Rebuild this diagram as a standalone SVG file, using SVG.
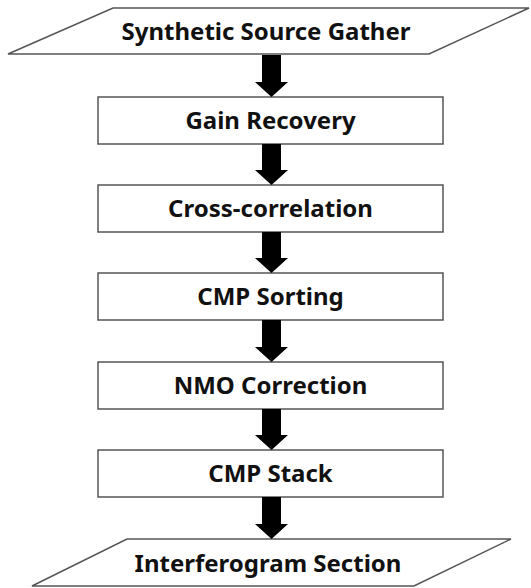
<svg xmlns="http://www.w3.org/2000/svg" width="531" height="588" viewBox="0 0 531 588">
<style>
.shape{fill:#fff;stroke:#555;stroke-width:1.5}
.lbl{font-family:"Noto Sans","Open Sans","Liberation Sans",sans-serif;font-weight:bold;font-size:24px;fill:#111;text-anchor:middle}
.arr{fill:#000}
</style>
<rect width="531" height="588" fill="#fff"/>
<g id="n0"><polygon class="shape" points="113,8 529,8 429,54 8,54"/><text class="lbl" x="266" y="40">Synthetic Source Gather</text></g>
<g id="n1"><rect class="shape" x="98" y="97" width="345" height="47"/><text class="lbl" x="270.5" y="129">Gain Recovery</text></g>
<g id="n2"><rect class="shape" x="98" y="185" width="345" height="47"/><text class="lbl" x="270.5" y="217">Cross-correlation</text></g>
<g id="n3"><rect class="shape" x="98" y="273" width="345" height="47"/><text class="lbl" x="270.5" y="305">CMP Sorting</text></g>
<g id="n4"><rect class="shape" x="98" y="362" width="345" height="47"/><text class="lbl" x="270.5" y="394">NMO Correction</text></g>
<g id="n5"><rect class="shape" x="98" y="450" width="345" height="47"/><text class="lbl" x="270.5" y="482">CMP Stack</text></g>
<g id="n6"><polygon class="shape" points="127,539 511,539 414,586 32,586"/><text class="lbl" x="268" y="572">Interferogram Section</text></g>
<g id="connectors">
<polygon class="arr" points="262,55 281,55 281,82 288,82 271.5,97 255,82 262,82"/>
<polygon class="arr" points="262,144 281,144 281,170 288,170 271.5,185 255,170 262,170"/>
<polygon class="arr" points="262,232 281,232 281,258 288,258 271.5,273 255,258 262,258"/>
<polygon class="arr" points="262,320 281,320 281,347 288,347 271.5,362 255,347 262,347"/>
<polygon class="arr" points="262,409 281,409 281,435 288,435 271.5,450 255,435 262,435"/>
<polygon class="arr" points="262,497 281,497 281,524 288,524 271.5,539 255,524 262,524"/>
</g>
</svg>
